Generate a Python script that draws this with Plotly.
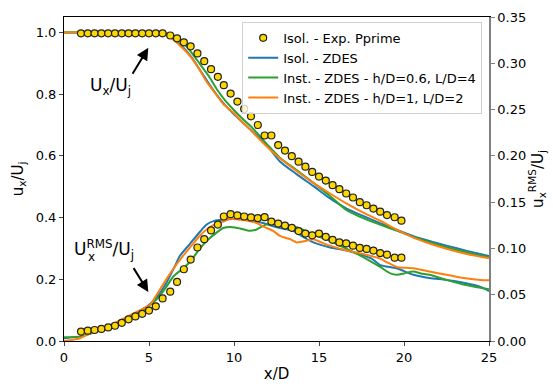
import plotly.graph_objects as go

# ---- experimental data (Isol. - Exp. Pprime) ----
exp_x = [1.0, 1.4, 1.8, 2.2, 2.6, 3.0, 3.4, 3.8, 4.2, 4.6, 5.0, 5.4, 5.8, 6.25, 6.65,
         7.05, 7.45, 7.85, 8.25, 8.65, 9.05, 9.4, 9.8, 10.2, 10.6, 11.0, 11.4, 11.8,
         12.2, 12.6, 13.0, 13.4, 13.8, 14.2, 14.6, 15.0, 15.4, 15.8, 16.2, 16.6, 17.0,
         17.4, 17.8, 18.2, 18.6, 19.0, 19.45, 19.85]
exp_u = [0.997, 0.997, 0.997, 0.997, 0.997, 0.997, 0.997, 0.997, 0.997, 0.997, 0.997,
         0.997, 0.997, 0.990, 0.981, 0.968, 0.955, 0.932, 0.907, 0.881, 0.856, 0.829,
         0.802, 0.776, 0.752, 0.728, 0.700, 0.666, 0.666, 0.635, 0.617, 0.599, 0.581,
         0.565, 0.548, 0.533, 0.520, 0.505, 0.492, 0.478, 0.465, 0.450, 0.440, 0.429,
         0.419, 0.408, 0.401, 0.390]
exp_rms = [0.0102, 0.0112, 0.0119, 0.0130, 0.0147, 0.0165, 0.0196, 0.0234, 0.0266,
           0.0294, 0.0329, 0.0375, 0.0460, 0.0533, 0.0638, 0.0775, 0.0880, 0.1010,
           0.1100, 0.1195, 0.1258, 0.1345, 0.1370, 0.1356, 0.1345, 0.1335, 0.1328,
           0.1338, 0.1290, 0.1268, 0.1247, 0.1223, 0.1188, 0.1160, 0.1142, 0.1160,
           0.1125, 0.1093, 0.1065, 0.1054, 0.1030, 0.1005, 0.0995, 0.0977, 0.0950,
           0.0932, 0.0900, 0.0900]

# ---- Isol. - ZDES ----
isol_x = [0, 5.6, 6.0, 6.5, 7.0, 7.5, 8.0, 8.5, 9.0, 9.5, 10.0, 11.0, 12.0, 12.7, 13.7,
          14.67, 15.65, 16.63, 17.6, 18.59, 19.6, 20.55, 21.5, 22.5, 23.7, 25]
isol_u = [1.0, 1.0, 0.994, 0.977, 0.952, 0.92, 0.878, 0.836, 0.797, 0.763, 0.735, 0.683,
          0.630, 0.582, 0.540, 0.502, 0.462, 0.429, 0.405, 0.382, 0.360, 0.340, 0.324,
          0.309, 0.292, 0.275]
isol_rx = [0, 1.0, 2.0, 3.0, 4.0, 4.86, 5.45, 6.0, 6.5, 6.82, 7.41, 8.0, 8.39, 8.88, 9.37,
           10.35, 10.8, 11.33, 11.8, 12.3, 12.7, 13.3, 13.69, 14.2, 14.67, 15.65, 16.63,
           17.6, 18.1, 18.6, 19.57, 20.55, 21.5, 22.5, 23.5, 24.5, 25]
isol_rms = [0.003, 0.005, 0.011, 0.019, 0.028, 0.037, 0.047, 0.062, 0.080, 0.092, 0.105,
            0.118, 0.1258, 0.130, 0.131, 0.132, 0.131, 0.129, 0.127, 0.124, 0.122, 0.120,
            0.117, 0.111, 0.1065, 0.101, 0.0977, 0.0925, 0.089, 0.082, 0.0785, 0.0715,
            0.068, 0.066, 0.063, 0.0585, 0.054]

# ---- Inst. - ZDES - h/D=0.6, L/D=4 ----
g_x = [0, 5.8, 6.2, 6.7, 7.2, 7.7, 8.0, 8.5, 9.0, 9.5, 10.0, 10.5, 11.0, 11.5, 12.0, 12.7,
       13.7, 14.67, 15.65, 16.63, 17.6, 18.59, 19.6, 20.55, 21.5, 22.5, 23.7, 25]
g_u = [1.0, 1.0, 0.994, 0.978, 0.955, 0.92, 0.897, 0.86, 0.815, 0.778, 0.748, 0.720,
       0.695, 0.665, 0.634, 0.594, 0.553, 0.5125, 0.470, 0.424, 0.398, 0.377, 0.357,
       0.337, 0.320, 0.304, 0.287, 0.271]
g_rx = [0, 1.0, 2.0, 3.0, 4.0, 4.86, 5.45, 6.0, 6.43, 7.0, 7.41, 8.0, 8.39, 8.9, 9.37,
        9.9, 10.35, 10.94, 11.33, 11.92, 12.3, 12.7, 13.3, 13.69, 14.2, 14.67, 15.65,
        16.63, 17.6, 18.6, 19.2, 19.57, 20.0, 20.55, 21.0, 21.5, 22.5, 23.5, 24.5, 25]
g_rms = [0.004, 0.005, 0.011, 0.019, 0.027, 0.036, 0.045, 0.058, 0.0697, 0.0785, 0.0855,
         0.100, 0.108, 0.116, 0.122, 0.123, 0.1216, 0.119, 0.1205, 0.126, 0.126, 0.125,
         0.124, 0.123, 0.119, 0.115, 0.108, 0.0995, 0.0907, 0.080, 0.073, 0.0715, 0.073,
         0.075, 0.073, 0.0715, 0.066, 0.061, 0.0575, 0.056]

# ---- Inst. - ZDES - h/D=1, L/D=2 ----
o_x = [0, 5.5, 6.0, 6.43, 7.0, 7.41, 8.0, 8.39, 9.0, 9.37, 10.0, 10.35, 11.0, 11.33,
       12.3, 12.7, 13.7, 14.67, 15.65, 16.63, 17.6, 18.59, 19.6, 20.55, 21.5, 22.5,
       23.7, 25]
o_u = [1.0, 1.0, 0.992, 0.976, 0.948, 0.924, 0.877, 0.840, 0.795, 0.768, 0.738, 0.716,
       0.683, 0.663, 0.611, 0.592, 0.550, 0.5125, 0.478, 0.445, 0.416, 0.390, 0.360,
       0.335, 0.316, 0.299, 0.282, 0.268]
o_rx = [0, 0.94, 1.72, 2.7, 3.69, 4.66, 5.06, 5.45, 6.0, 6.43, 7.0, 7.41, 8.0, 8.39, 9.0,
        9.37, 9.76, 10.35, 10.8, 11.33, 11.8, 12.3, 12.7, 13.3, 13.69, 14.2, 14.67, 15.2,
        15.65, 16.63, 17.6, 18.6, 19.0, 19.57, 20.55, 21.5, 22.5, 23.5, 24.5, 25]
o_rms = [0.0, 0.003, 0.010, 0.017, 0.026, 0.035, 0.039, 0.050, 0.066, 0.078, 0.092, 0.101,
         0.114, 0.1205, 0.127, 0.129, 0.132, 0.131, 0.130, 0.1275, 0.123, 0.119, 0.1135,
         0.110, 0.1065, 0.108, 0.110, 0.106, 0.103, 0.0977, 0.094, 0.089, 0.085, 0.080,
         0.0785, 0.075, 0.0715, 0.068, 0.066, 0.0655]

x_ticks = [0, 5, 10, 15, 20, 25]
left_ticks = [0.0, 0.2, 0.4, 0.6, 0.8, 1.0]
right_ticks = [0.0, 0.05, 0.10, 0.15, 0.20, 0.25, 0.30, 0.35]

BLUE, GREEN, ORANGE = "#1f77b4", "#2ca02c", "#ff7f0e"
FONT = "DejaVu Sans"

fig = go.Figure()

series = [
    ("Isol. - ZDES", BLUE, isol_x, isol_u, isol_rx, isol_rms, 2),
    ("Inst. - ZDES - h/D=0.6, L/D=4", GREEN, g_x, g_u, g_rx, g_rms, 3),
    ("Inst. - ZDES - h/D=1, L/D=2", ORANGE, o_x, o_u, o_rx, o_rms, 4),
]
for name, col, mx, mu, rx, rv, rank in series:
    fig.add_trace(go.Scatter(x=mx, y=mu, mode="lines", name=name, legendrank=rank,
                             line=dict(color=col, width=2, shape="spline", smoothing=0.6)))
    fig.add_trace(go.Scatter(x=rx, y=rv, mode="lines", name=name, showlegend=False,
                             yaxis="y2",
                             line=dict(color=col, width=2, shape="spline", smoothing=0.6)))

marker = dict(color="#ffd700", size=7, line=dict(color="#222222", width=1.2))
fig.add_trace(go.Scatter(x=exp_x, y=exp_u, mode="markers", name="Isol. - Exp. Pprime",
                         legendrank=1, marker=marker))
fig.add_trace(go.Scatter(x=exp_x, y=exp_rms, mode="markers", showlegend=False,
                         yaxis="y2", marker=marker))

# labels with arrows
fig.add_annotation(x=4.96, y=0.95, ax=3.98, ay=0.861, xref="x", yref="y",
                   axref="x", ayref="y", text="", showarrow=True, arrowhead=2,
                   arrowsize=1.2, arrowwidth=2, arrowcolor="black", standoff=0)
fig.add_annotation(x=2.76, y=0.824, xref="x", yref="y", showarrow=False,
                   text="U<sub>x</sub>/U<sub>j</sub>",
                   font=dict(family=FONT, size=17, color="black"))
fig.add_annotation(x=4.96, y=0.159, ax=4.04, ay=0.241, xref="x", yref="y",
                   axref="x", ayref="y", text="", showarrow=True, arrowhead=2,
                   arrowsize=1.2, arrowwidth=2, arrowcolor="black", standoff=0)
# RMS label: superscript and subscript stacked over the same spot
fig.add_annotation(x=0.47, y=0.295, xref="x", yref="y", showarrow=False, xanchor="left",
                   text="U<sup>RMS</sup>/U<sub>j</sub>",
                   font=dict(family=FONT, size=17, color="black"))
fig.add_annotation(x=1.28, y=0.272, xref="x", yref="y", showarrow=False, xanchor="left",
                   text="x", font=dict(family=FONT, size=12, color="black"))

fig.update_layout(
    width=553, height=389,
    margin=dict(l=64, r=64, t=10, b=45),
    plot_bgcolor="white", paper_bgcolor="white",
    font=dict(family=FONT, size=13, color="black"),
    showlegend=True,
    legend=dict(x=0.984, y=0.985, xanchor="right", yanchor="top",
                bgcolor="rgba(255,255,255,0.8)", bordercolor="#d0d0d0", borderwidth=1,
                font=dict(family=FONT, size=13), tracegroupgap=0,
                itemwidth=30),
    xaxis=dict(range=[0, 25], tickvals=x_ticks, ticks="outside", ticklen=4,
               showline=True, linecolor="black", linewidth=1, mirror=True,
               showgrid=False, zeroline=False,
               title=dict(text="x/D", font=dict(size=15), standoff=4)),
    yaxis=dict(range=[0, 1.05], tickvals=left_ticks, tickformat=".1f", ticks="outside",
               ticklen=4, showline=True, linecolor="black", linewidth=1,
               showgrid=False, zeroline=False,
               title=dict(text="u<sub>x</sub>/U<sub>j</sub>", font=dict(size=15), standoff=8)),
    yaxis2=dict(range=[0, 0.35], tickvals=right_ticks, tickformat=".2f", overlaying="y",
                side="right", ticks="outside", ticklen=4, tickcolor="#808080",
                showline=True, linecolor="#808080", linewidth=1.5,
                showgrid=False, zeroline=False,
                title=dict(text="u<sub>x</sub><sup>RMS</sup>/U<sub>j</sub>",
                           font=dict(size=15), standoff=6)),
)

fig.write_html("out.html")
